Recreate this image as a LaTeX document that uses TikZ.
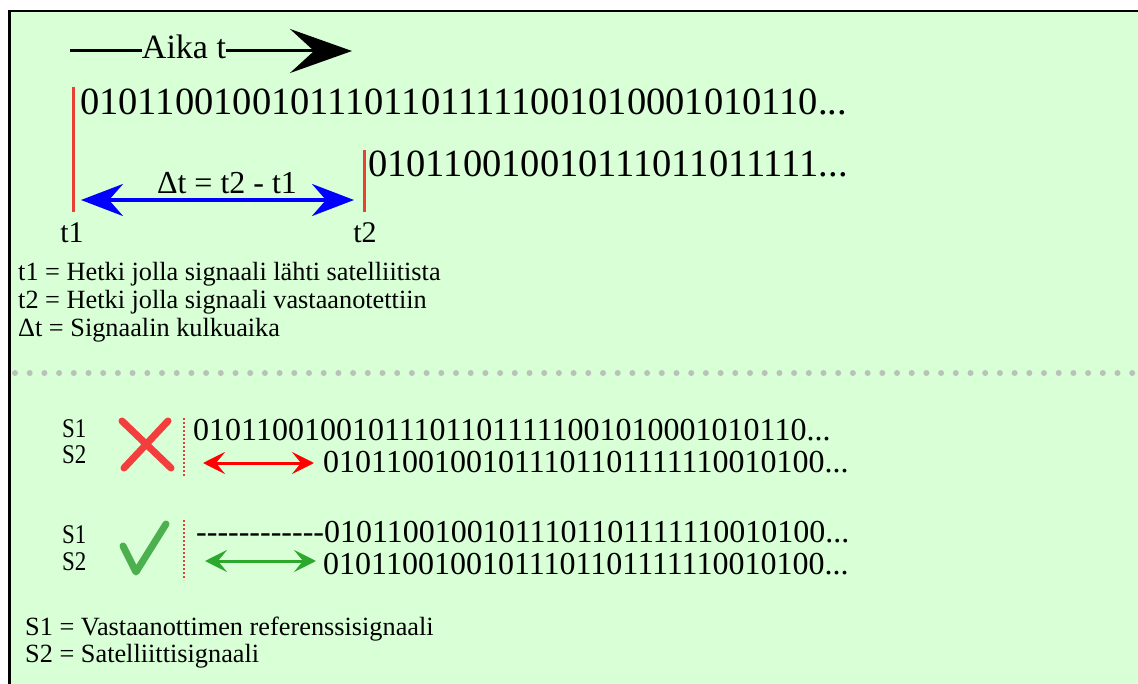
\documentclass[tikz,border=0pt]{standalone}
\usepackage{fontspec}
\setmainfont{Liberation Serif}
\usetikzlibrary{arrows.meta}

\definecolor{bggreen}{RGB}{216,255,214}
\definecolor{markred}{RGB}{232,64,52}
\definecolor{crossred}{RGB}{244,62,62}
\definecolor{okgreen}{RGB}{76,176,78}
\definecolor{arrowgreen}{RGB}{44,168,44}
\definecolor{dotgray}{RGB}{184,194,184}

\tikzset{
  txt/.style={anchor=base west, inner sep=0pt},
  bigbits/.style={txt, font=\fontsize{38.5}{40}\selectfont},
  bits/.style={txt, text height=22pt, text depth=0pt, font=\fontsize{32}{34}\selectfont},
  legend/.style={txt, font=\fontsize{26.3}{28}\selectfont},
  slabel/.style={txt, font=\fontsize{27}{28}\selectfont\addfontfeature{FakeStretch=0.85}},
  tmark/.style={markred, line width=3pt},
  sync/.style={markred, dotted, line width=2pt},
  sigtip/.tip={Stealth[length=22pt,width=22pt,inset=9pt]},
  dttip/.tip={Stealth[length=42pt,width=32pt,inset=14pt]},
}

\begin{document}
\begin{tikzpicture}[x=1pt,y=-1pt]
    \useasboundingbox (0,0) rectangle (1138,684);
    \fill[bggreen] (9.5,11) rectangle (1138,684);
    \draw[line width=2.5pt] (9.5,684) -- (9.5,11) -- (1138,11);

    % time axis
    \node[inner sep=0pt, anchor=base, font=\fontsize{34}{36}\selectfont] (aika) at (184,59) {Aika t};
    \coordinate (aikaL) at (70,51);
    \coordinate (aikaR) at (352,51);
    \draw[line width=3pt] (aikaL) -- (aikaL -| aika.west);
    \draw[line width=3pt, -{Stealth[length=62pt,width=44pt,inset=24pt]}]
      (aikaR -| aika.east) -- (aikaR);

    % sent and received signal
    \node[bigbits] (sent) at (80,115) {010110010010111011011111001010001010110...};
    \node[bigbits] (recv) at (368,177) {010110010010111011011111...};

    \coordinate (t1top) at (73,87);
    \coordinate (t1) at (73,212);
    \coordinate (t2top) at (364,150);
    \coordinate (t2) at (364,212);
    \draw[tmark] (t1top) -- (t1);
    \draw[tmark] (t2top) -- (t2);
    \node[inner sep=0pt, anchor=base, font=\fontsize{30}{32}\selectfont] (t1lbl) at (72,243) {t1};
    \node[inner sep=0pt, anchor=base, font=\fontsize{30}{32}\selectfont] (t2lbl) at (365,243) {t2};

    \coordinate (dtL) at (81,200);
    \coordinate (dtR) at (354,200);
    \draw[blue, line width=4pt, dttip-dttip] (dtL) -- (dtR);
    \node[inner sep=0pt, anchor=base, font=\fontsize{32}{34}\selectfont] (dt) at (227,194) {Δt = t2 - t1};

    \node[legend] (leg1) at (18,281) {t1 = Hetki jolla signaali lähti satelliitista};
    \node[legend] (leg2) at (18,309) {t2 = Hetki jolla signaali vastaanotettiin};
    \node[legend] (leg3) at (18,337) {Δt = Signaalin kulkuaika};

    % separator
    \foreach \i in {0,...,76}
      \fill[dotgray] (15+\i*14.7,373) circle (3);

    % wrong alignment
    \node[slabel] (s1bad) at (62,438) {S1};
    \node[slabel] (s2bad) at (62,463) {S2};
    \draw[crossred, line width=7pt, line cap=round]
      (122,421) -- (171,468)
      (168,421) -- (124,468);
    \coordinate (badtop) at (184,418);
    \coordinate (badbot) at (184,477);
    \draw[sync] (badtop) -- (badbot);
    \node[bits] (refbad) at (193,440) {010110010010111011011111001010001010110...};
    \node[bits] (satbad) at (323,472) {01011001001011101101111110010100...};
    \coordinate (badL) at (203,463);
    \coordinate (badR) at (314,463);
    \draw[red, line width=3pt, sigtip-sigtip] (badL) -- (badR);

    % right alignment
    \node[slabel] (s1ok) at (62,543) {S1};
    \node[slabel] (s2ok) at (62,570) {S2};
    \draw[okgreen, line width=7pt, line cap=round, line join=round]
      (123,546) -- (136,572) -- (166,524);
    \coordinate (oktop) at (184,520);
    \coordinate (okbot) at (184,580);
    \draw[sync] (oktop) -- (okbot);
    \node[bits] (refok) at (196,542) {-{}-{}-{}-{}-{}-{}-{}-{}-{}-{}-{}-{}01011001001011101101111110010100...};
    \node[bits] (satok) at (323,574) {01011001001011101101111110010100...};
    \coordinate (okL) at (205,561);
    \coordinate (okR) at (316,561);
    \draw[arrowgreen, line width=3pt, sigtip-sigtip] (okL) -- (okR);

    \node[legend] (leg4) at (25,635) {S1 = Vastaanottimen referenssisignaali};
    \node[legend] (leg5) at (25,662) {S2 = Satelliittisignaali};
\end{tikzpicture}
\end{document}
